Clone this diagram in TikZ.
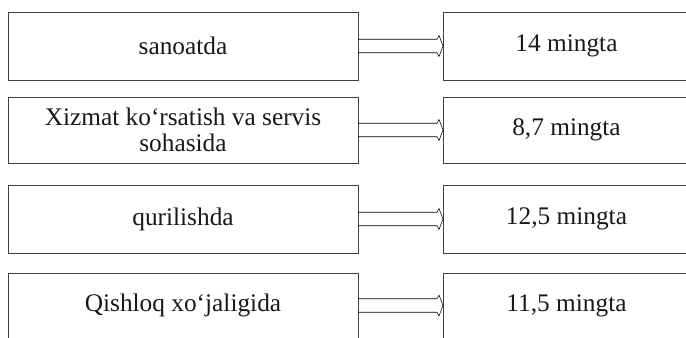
\documentclass[tikz,border=0pt]{standalone}
\usepackage{fontspec}
\setmainfont{Liberation Serif}
\usetikzlibrary{calc}

\tikzset{
	box/.style={draw=black!75, line width=0.6pt, rectangle, inner sep=0pt, outer sep=0pt, align=center, font=\fontsize{19}{19.5}\selectfont, text=black!90},
	leftbox/.style={box, minimum width=262.5pt},
	rightbox/.style={box, minimum width=185.25pt},
	dblarrow/.style={draw=black!70, line width=0.5pt, to path={($(\tikztostart)+(0,-6.75)$) -- ($(\tikztotarget)+(-6,-6.75)$) -- ($(\tikztotarget)+(-4,-10.5)$) -- (\tikztotarget) -- ($(\tikztotarget)+(-4,10.5)$) -- ($(\tikztotarget)+(-6,6.75)$) -- ($(\tikztostart)+(0,6.75)$)}}
}

\begin{document}
\begin{tikzpicture}[x=0.75pt,y=0.75pt,yscale=-1,xscale=1]
		\useasboundingbox (0,0) rectangle (686,337);
		
		% Left boxes
		\node [leftbox, minimum height=51pt] (s1) at (183,46) {sanoatda};
		\node [leftbox, minimum height=49.5pt] (s2) at (183,130) {Xizmat ko‘rsatish va servis\\sohasida};
		\node [leftbox, minimum height=51pt] (s3) at (183,219) {qurilishda};
		\node [leftbox, minimum height=48.75pt] (s4) at (183,305.5) {Qishloq xo‘jaligida};
		
		% Right boxes
		\node [rightbox, minimum height=51pt] (m1) at (566.5,46) {14 mingta};
		\node [rightbox, minimum height=49.5pt] (m2) at (566.5,130) {8,7 mingta};
		\node [rightbox, minimum height=51pt] (m3) at (566.5,219) {12,5 mingta};
		\node [rightbox, minimum height=48.75pt] (m4) at (566.5,305.5) {11,5 mingta};
		
		% Double arrows
		\draw (s1.east) to [dblarrow] (m1.west);
		\draw (s2.east) to [dblarrow] (m2.west);
		\draw (s3.east) to [dblarrow] (m3.west);
		\draw (s4.east) to [dblarrow] (m4.west);
		
	\end{tikzpicture}
\end{document}
